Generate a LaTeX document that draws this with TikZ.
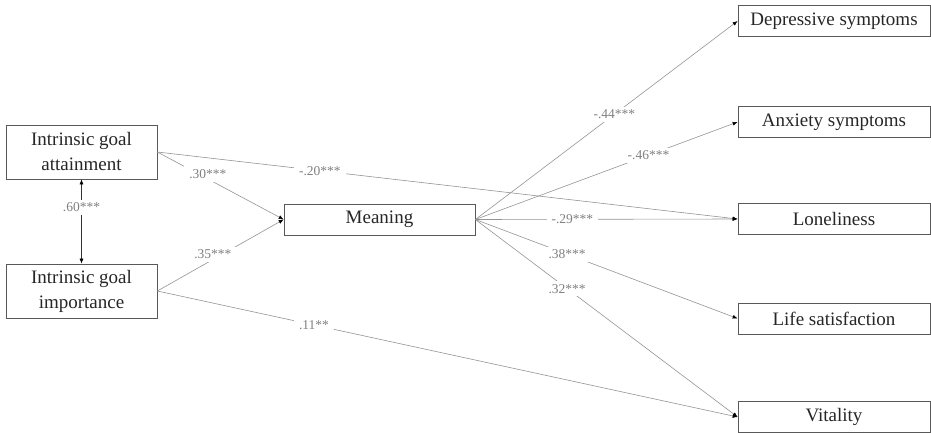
\documentclass[tikz,border=0pt]{standalone}
\usepackage{fontspec}
\setmainfont{Liberation Serif}
\usetikzlibrary{arrows.meta,positioning}
\definecolor{boxline}{gray}{0.35}
\definecolor{pathline}{gray}{0.58}
\definecolor{coeftext}{gray}{0.5}
\definecolor{boxtext}{gray}{0.15}
\begin{document}
\begin{tikzpicture}[x=1pt, y=-1pt, >={Latex[length=5pt,width=4pt,color=black]}]
	\tikzstyle{var} = [draw=boxline, rectangle, line width=0.7pt, align=center, text=boxtext, font={\fontsize{19}{25}\selectfont}, inner sep=0pt];
	\tikzstyle{pred} = [var, minimum width=151pt, minimum height=54pt];
	\tikzstyle{outcome} = [var, minimum width=192pt, minimum height=31pt];
	\tikzstyle{path} = [->, draw=pathline, line width=0.6pt];
	\tikzstyle{coef} = [fill=white, text=coeftext, inner xsep=5pt, inner ysep=3pt, font={\fontsize{13.5}{15}\selectfont}];

	\useasboundingbox (0,0) rectangle (931,433);

	\node[pred] (att) at (81.5,152) {Intrinsic goal\\attainment};
	\node[pred] (imp) at (81.5,291) {Intrinsic goal\\importance};
	\node[var, minimum width=191pt, minimum height=31pt] (mean) at (379.5,219.5) {Meaning};

	\foreach \name/\txt/\y in {dep/Depressive symptoms/21, anx/Anxiety symptoms/122, lon/Loneliness/219, lif/Life satisfaction/318.5, vit/Vitality/417} {
		\node[outcome] (\name) at (834,\y) {\txt};
	}

	\draw[path, <->, draw=black!80] (att.south) to node[coef, pos=0.33]{.60***} (imp.north);

	\draw[path] (att.east) to node[coef, pos=0.28]{-.20***} (lon.west);
	\draw[path] (att.east) to node[coef, pos=0.4, yshift=5pt]{.30***} (mean.west);
	\draw[path] (imp.east) to node[coef, pos=0.44, yshift=5pt]{.35***} (mean.west);
	\draw[path] (imp.east) to node[coef, pos=0.27]{.11**} (vit.west);

	\foreach \to/\val/\p in {dep/-.44***/0.53, anx/-.46***/0.66, lon/-.29***/0.37, lif/.38***/0.35, vit/.32***/0.35} {
		\draw[path] (mean.east) to node[coef, pos=\p]{\val} (\to.west);
	}
\end{tikzpicture}
\end{document}
